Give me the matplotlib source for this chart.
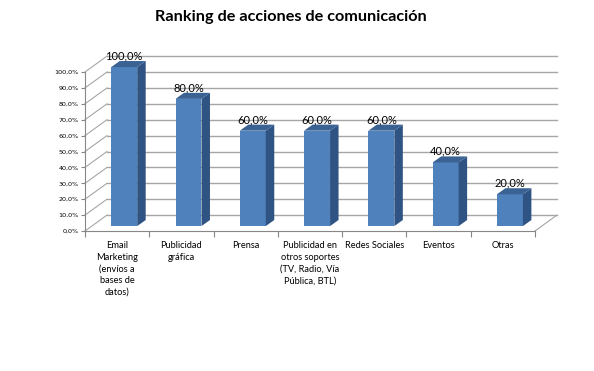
import numpy as np
import matplotlib
matplotlib.use('Agg')
import matplotlib.pyplot as plt
from matplotlib.patches import Polygon

categories = ['Email\nMarketing\n(envíos a\nbases de\ndatos)', 'Publicidad\ngráfica', 'Prensa',
              'Publicidad en\notros soportes\n(TV, Radio, Vía\nPública, BTL)', 'Redes Sociales', 'Eventos', 'Otras']
values = [100, 80, 60, 60, 60, 40, 20]
y_ticks = [0, 10, 20, 30, 40, 50, 60, 70, 80, 90, 100]

W, H = 594, 371
plt.rcParams['font.family'] = ['Lato', 'DejaVu Sans']

fig = plt.figure(figsize=(W/100, H/100), dpi=100, facecolor='white')
ax = fig.add_axes([85/W, 1-231/H, 450/W, 159/H])
ax.set_xlim(0, 7)
ax.set_ylim(0, 100)

# depth of the fake 3d box, in data units
wall_dx, wall_dy = 0.342, 10
front_dx, front_dy = 0.11, 3.1
bar_dx, bar_dy = 0.132, 3.8
bar_w = 0.404

grid = '#a6a6a6'
for t in y_ticks:
    ax.plot([wall_dx, 7+wall_dx], [t+wall_dy, t+wall_dy], color=grid, lw=1, clip_on=False, zorder=1)
    ax.plot([0, wall_dx], [t, t+wall_dy], color=grid, lw=0.8, clip_on=False, zorder=1)
ax.plot([7, 7+wall_dx], [0, wall_dy], color=grid, lw=0.8, clip_on=False, zorder=1)

x = np.arange(7)+0.5
ax.bar(x+front_dx, values, bar_w, bottom=front_dy, color='#4f81bd', zorder=3, clip_on=False)
for xi, v in zip(x, values):
    l = xi+front_dx-bar_w/2
    r = xi+front_dx+bar_w/2
    b = front_dy
    t = v+front_dy
    ax.add_patch(Polygon([[r, b], [r+bar_dx, b+bar_dy], [r+bar_dx, t+bar_dy], [r, t]],
                         color='#2f5382', lw=0, clip_on=False, zorder=3))
    ax.add_patch(Polygon([[l, t], [r, t], [r+bar_dx, t+bar_dy], [l+bar_dx, t+bar_dy]],
                         color='#3a6293', lw=0, clip_on=False, zorder=3))
    ax.text(xi+front_dx, t+7, f'{v:.1f}%'.replace('.', ','), ha='center', va='center',
            fontsize=8, color='black', zorder=4)

for s in ['top', 'right']:
    ax.spines[s].set_visible(False)
for s in ['left', 'bottom']:
    ax.spines[s].set_color('#868686')
    ax.spines[s].set_linewidth(0.8)
    ax.spines[s].set_zorder(2)

ax.set_yticks(y_ticks)
ax.set_yticklabels([f'{t:.1f}%'.replace('.', ',') for t in y_ticks], family='DejaVu Sans', fontsize=4.6)
ax.tick_params(axis='y', length=3, width=0.8, color='#868686', pad=1.5)

ax.set_xticks(np.arange(8))
ax.set_xticklabels([])
ax.tick_params(axis='x', length=4, width=0.8, color='#868686')
ax.set_xticks(x, minor=True)
ax.set_xticklabels(categories, minor=True, fontsize=6.7, linespacing=1.38)
ax.tick_params(axis='x', which='minor', length=0, pad=7.5)

fig.text(291/W, 1-16.5/H, 'Ranking de acciones de comunicación', ha='center', va='center',
         fontsize=11.7, fontweight='bold', color='black')

fig.savefig('out.png', dpi=100)
